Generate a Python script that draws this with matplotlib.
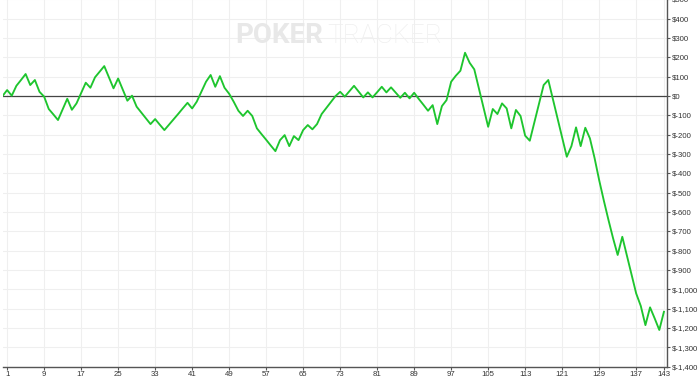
import matplotlib
matplotlib.use("Agg")
import matplotlib.pyplot as plt
from matplotlib.ticker import FuncFormatter, FixedLocator

values = [0, 31, 2, 53, 83, 114, 57, 83, 22, -3,
          -67, -95, -124, -69, -14, -71, -38, 15, 69, 43,
          97, 126, 155, 97, 40, 91, 33, -24, 2, -55,
          -85, -115, -145, -119, -148, -176, -148, -120, -92, -63,
          -35, -64, -29, 22, 74, 109, 48, 103, 43, 12,
          -30, -76, -103, -76, -103, -167, -197, -226, -256, -285,
          -228, -202, -259, -207, -228, -176, -150, -172, -145, -93,
          -62, -31, 0, 22, -3, 25, 53, 23, -7, 19,
          -7, 20, 48, 19, 45, 18, -9, 17, -12, 17,
          -15, -45, -76, -47, -145, -52, -21, 74, 105, 131,
          224, 172, 138, 39, -60, -159, -67, -93, -38, -64,
          -167, -72, -103, -205, -231, -135, -39, 57, 83, -16,
          -115, -215, -314, -259, -162, -259, -164, -219, -320, -435,
          -540, -640, -735, -822, -728, -826, -924, -1021, -1086, -1185,
          -1093, -1150, -1210, -1116]
hands = list(range(len(values)))
x_ticks = list(range(1, 143, 8)) + [143]
y_ticks = list(range(-1400, 501, 100))

W, H = 700, 378
fig = plt.figure(figsize=(7.0, 3.78), dpi=100)
fig.patch.set_facecolor("white")
left_px, right_px, bottom_px, top_px = 2.5, 666.7, 366.7, -0.6
ax = fig.add_axes([left_px / W, (H - bottom_px) / H,
                   (right_px - left_px) / W, (bottom_px - top_px) / H])
ax.set_facecolor("white")

ax.plot(hands, values, color="#1ec52e", lw=1.35, zorder=3)
ax.axhline(0, color="#444444", lw=0.9, zorder=2)

ax.set_xlim(0, 143.6)
ax.set_ylim(-1400, 500)
ax.xaxis.set_major_locator(FixedLocator(x_ticks))
ax.yaxis.set_major_locator(FixedLocator(y_ticks))
ax.yaxis.set_major_formatter(FuncFormatter(lambda v, p: f"${int(v):,}"))
ax.yaxis.tick_right()
ax.grid(True, color="#efefef", lw=0.8, zorder=0)
ax.set_axisbelow(True)

for s in ["left", "top"]:
    ax.spines[s].set_visible(False)
for s in ["right", "bottom"]:
    ax.spines[s].set_color("#555555")
    ax.spines[s].set_linewidth(1.0)

ax.tick_params(axis="both", colors="#555555", length=2.5, width=0.8,
               labelsize=5.6, labelcolor="#333333")
ax.tick_params(axis="x", pad=0.4)
ax.tick_params(axis="y", pad=1.5)
for lab in ax.get_xticklabels() + ax.get_yticklabels():
    lab.set_family("Liberation Sans")

fig.text(235 / W, (H - 43) / H, "POKER", family="Roboto", fontweight="bold",
         fontsize=20, color="#e8e8e8", ha="left", va="baseline", zorder=1)
fig.text(327 / W, (H - 43) / H, "TRACKER", family="Roboto", fontweight="light",
         fontsize=19, color="#efefef", ha="left", va="baseline", zorder=1)

fig.savefig("out.png", dpi=100)
